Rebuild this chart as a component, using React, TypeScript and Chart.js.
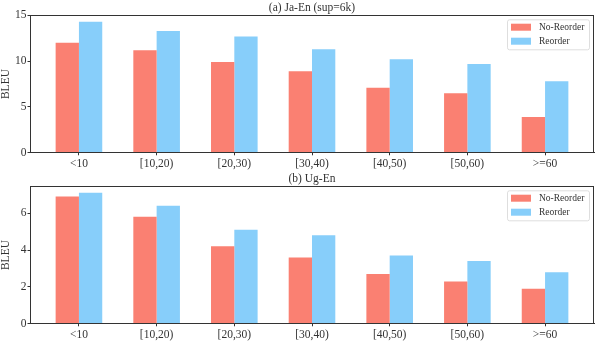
import React, { useEffect, useRef } from 'react';
import { Chart, registerables } from 'chart.js';

Chart.register(...registerables);

// ---- data ----
const categories = ['<10', '[10,20)', '[20,30)', '[30,40)', '[40,50)', '[50,60)', '>=60'];
const seriesLabels = ['No-Reorder', 'Reorder'];

const jaNoReorder = [12.0, 11.2, 9.9, 8.9, 7.1, 6.5, 3.9];
const jaReorder = [14.3, 13.3, 12.7, 11.3, 10.2, 9.7, 7.8];

const ugNoReorder = [6.9, 5.8, 4.2, 3.6, 2.7, 2.3, 1.9];
const ugReorder = [7.1, 6.4, 5.1, 4.8, 3.7, 3.4, 2.8];

const jaTitle = '(a) Ja-En (sup=6k)';
const ugTitle = '(b) Ug-En';
const yAxisLabel = 'BLEU';

const jaYMax = 15;
const jaStep = 5;
const ugYMax = 7.455;
const ugStep = 2;

// ---- styles ----
const FONT = "'Liberation Serif', 'Times New Roman', serif";
const INK = '#333333';
const C_NR = '#FA8072';
const C_R = '#87CEFA';
const W = 596;
const H = 171;

function decorPlugin(title: string) {
  return {
    id: 'decor',
    afterDraw(chart: any) {
      const ctx = chart.ctx as CanvasRenderingContext2D;
      const a = chart.chartArea;
      ctx.save();
      // frame
      ctx.strokeStyle = INK;
      ctx.lineWidth = 1;
      const l = Math.round(a.left) + 0.5;
      const t = Math.round(a.top) + 0.5;
      const r = Math.round(a.right) - 0.5;
      const b = Math.round(a.bottom) - 0.5;
      ctx.strokeRect(l, t, r - l, b - t);
      // title
      ctx.fillStyle = INK;
      ctx.font = `11.5px ${FONT}`;
      ctx.textAlign = 'center';
      ctx.textBaseline = 'middle';
      ctx.fillText(title, (a.left + a.right) / 2, 7.5);
      // y label
      ctx.save();
      ctx.translate(6, (a.top + a.bottom) / 2);
      ctx.rotate(-Math.PI / 2);
      ctx.fillText(yAxisLabel, 0, 0);
      ctx.restore();
      // legend
      const bw = 82;
      const bh = 30;
      const bx = a.right - 4.5 - bw;
      const by = a.top + 4.5;
      ctx.globalAlpha = 0.8;
      ctx.fillStyle = '#ffffff';
      ctx.strokeStyle = '#d6d6d6';
      ctx.lineWidth = 1;
      const rad = 2;
      ctx.beginPath();
      ctx.moveTo(bx + rad, by);
      ctx.lineTo(bx + bw - rad, by);
      ctx.quadraticCurveTo(bx + bw, by, bx + bw, by + rad);
      ctx.lineTo(bx + bw, by + bh - rad);
      ctx.quadraticCurveTo(bx + bw, by + bh, bx + bw - rad, by + bh);
      ctx.lineTo(bx + rad, by + bh);
      ctx.quadraticCurveTo(bx, by + bh, bx, by + bh - rad);
      ctx.lineTo(bx, by + rad);
      ctx.quadraticCurveTo(bx, by, bx + rad, by);
      ctx.closePath();
      ctx.fill();
      ctx.stroke();
      ctx.globalAlpha = 1;
      chart.data.datasets.forEach((ds: any, i: number) => {
        const cy = by + 7.4 + i * 14;
        ctx.fillStyle = ds.backgroundColor;
        ctx.fillRect(bx + 3.5, cy - 3.5, 20, 7);
        ctx.fillStyle = INK;
        ctx.font = `9.5px ${FONT}`;
        ctx.textAlign = 'left';
        ctx.textBaseline = 'middle';
        ctx.fillText(ds.label, bx + 31.5, cy + 0.5);
      });
      ctx.restore();
    },
  };
}

function Panel(props: { title: string; nr: number[]; r: number[]; yMax: number; step: number }) {
  const ref = useRef<HTMLCanvasElement | null>(null);
  useEffect(() => {
    if (!ref.current) return;
    const n = categories.length;
    const margin = 0.05 * (n - 1 + 0.6);
    const chart = new Chart(ref.current, {
      type: 'bar',
      data: {
        datasets: [
          {
            label: seriesLabels[0],
            data: props.nr.map((v, i) => ({ x: i, y: v })),
            backgroundColor: C_NR,
            borderWidth: 0,
            categoryPercentage: 0.6,
            barPercentage: 1,
          },
          {
            label: seriesLabels[1],
            data: props.r.map((v, i) => ({ x: i, y: v })),
            backgroundColor: C_R,
            borderWidth: 0,
            categoryPercentage: 0.6,
            barPercentage: 1,
          },
        ],
      },
      options: {
        animation: false,
        responsive: false,
        maintainAspectRatio: false,
        layout: { padding: { top: 15.3, right: 2, left: 0, bottom: 0 } },
        plugins: {
          legend: { display: false },
          title: { display: false },
          tooltip: { enabled: false },
        },
        scales: {
          x: {
            type: 'linear',
            min: -0.3 - margin,
            max: n - 1 + 0.3 + margin,
            offset: false,
            afterFit: (s: any) => {
              s.height = 18.2;
            },
            afterBuildTicks: (s: any) => {
              s.ticks = categories.map((_, i) => ({ value: i }));
            },
            grid: {
              offset: false,
              drawOnChartArea: false,
              drawTicks: true,
              tickLength: 2.5,
              color: INK,
            },
            border: { display: true, color: INK, width: 1 },
            ticks: {
              autoSkip: false,
              maxRotation: 0,
              padding: 1.5,
              color: INK,
              font: { family: FONT, size: 11.5 },
              callback: (v: any) => categories[Math.round(Number(v))] ?? '',
            },
          },
          y: {
            min: 0,
            max: props.yMax,
            afterFit: (s: any) => {
              s.width = 30;
            },
            grid: {
              drawOnChartArea: false,
              drawTicks: true,
              tickLength: 2.5,
              color: INK,
            },
            border: { display: true, color: INK, width: 1 },
            ticks: {
              stepSize: props.step,
              includeBounds: false,
              padding: 1,
              color: INK,
              font: { family: FONT, size: 11.5 },
            },
          },
        },
      } as any,
      plugins: [decorPlugin(props.title)],
    });
    return () => chart.destroy();
  }, []);
  return <canvas ref={ref} width={W} height={H} style={{ display: 'block', width: W, height: H }} />;
}

export default function App() {
  useEffect(() => {
    document.body.style.margin = '0';
  }, []);
  return (
    <div style={{ width: W, height: 342, background: '#fff' }}>
      <Panel title={jaTitle} nr={jaNoReorder} r={jaReorder} yMax={jaYMax} step={jaStep} />
      <Panel title={ugTitle} nr={ugNoReorder} r={ugReorder} yMax={ugYMax} step={ugStep} />
    </div>
  );
}
